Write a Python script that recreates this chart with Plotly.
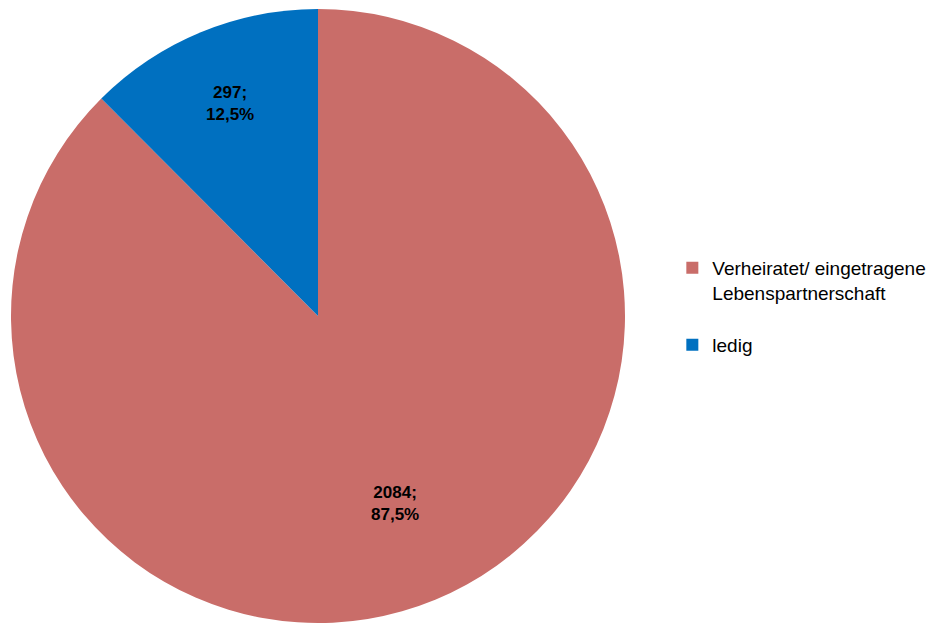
import math
import plotly.graph_objects as go

labels = ["Verheiratet/ eingetragene<br>Lebenspartnerschaft<br> ", "ledig"]
values = [2084, 297]
percent_text = ["87,5%", "12,5%"]
colors = ["#C96D69", "#0070C0"]
label_radius_frac = [0.66, 0.75]

W, H = 937, 623
dom_x = [3 / W, 617 / W]
dom_y = [8 / H, 622 / H]

fig = go.Figure(go.Pie(
    labels=labels,
    values=values,
    textinfo="none",
    marker=dict(colors=colors, line=dict(width=0)),
    sort=False,
    direction="clockwise",
    rotation=0,
    hoverinfo="skip",
    domain=dict(x=dom_x, y=dom_y),
))

# data labels placed at slice mid-angles computed from the values
cx = (dom_x[0] + dom_x[1]) / 2
cy = (dom_y[0] + dom_y[1]) / 2
r_px = min((dom_x[1] - dom_x[0]) * W, (dom_y[1] - dom_y[0]) * H) / 2
total = sum(values)
start = 0.0
for v, p, frac in zip(values, percent_text, label_radius_frac):
    span = 360.0 * v / total
    mid = math.radians(start + span / 2)
    start += span
    dx = math.sin(mid) * r_px * frac
    dy = math.cos(mid) * r_px * frac
    fig.add_annotation(
        x=cx + dx / W, y=cy + dy / H, xref="paper", yref="paper",
        xanchor="center", yanchor="middle",
        text=f"<b>{v};<br>{p}</b>", showarrow=False,
        font=dict(family="Liberation Sans, Arial", size=17, color="black"),
        align="center",
    )

fig.update_layout(
    width=W, height=H,
    margin=dict(l=0, r=0, t=0, b=0),
    paper_bgcolor="white",
    plot_bgcolor="white",
    font=dict(family="Liberation Sans, Arial", size=19, color="black"),
    legend=dict(x=0.709, y=0.521, xanchor="left", yanchor="middle",
                font=dict(size=19), valign="top", itemwidth=30),
)

fig.write_html("out.html")
